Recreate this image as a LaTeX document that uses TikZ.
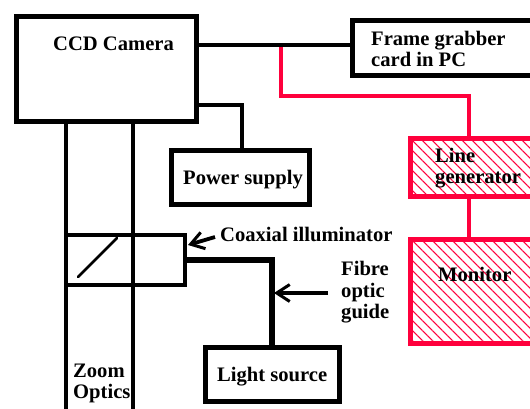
\documentclass[tikz,border=0pt]{standalone}
\usepackage{fontspec}
\setmainfont{Liberation Serif}
\usetikzlibrary{patterns.meta,arrows.meta}
\definecolor{redline}{RGB}{255,0,60}
\tikzset{
  x=1pt,y=-1pt,
  blackbox/.style={draw=black,line width=5pt,fill=white,inner sep=0pt,outer sep=0pt,anchor=north west},
  redbox/.style={draw=redline,line width=4.8pt,inner sep=0pt,outer sep=0pt,anchor=north west,
    pattern={Lines[angle=-45,distance=7.07pt,line width=1.1pt]},pattern color=redline},
  wire/.style={draw=black,line width=4.4pt},
  redwire/.style={draw=redline,line width=4.4pt},
  fibre/.style={draw=black,line width=5.4pt},
  pointer/.style={draw=black,line width=3.8pt,-{Straight Barb[length=13pt,width=17pt,line width=3pt]}},
  lab/.style={inner sep=0pt,anchor=base west,font=\fontsize{20.6}{21}\selectfont\bfseries},
}
\begin{document}
\begin{tikzpicture}
\useasboundingbox (0,0) rectangle (530,408);
\clip (0,0) rectangle (530,408);
% boxes
\node[blackbox,minimum width=180pt,minimum height=105pt] (cam) at (16,16.5) {};
\node[blackbox,minimum width=190pt,minimum height=55pt] (fg) at (352,20) {};
\node[blackbox,minimum width=138pt,minimum height=54pt] (ps) at (171.5,150.5) {};
\node[blackbox,minimum width=134pt,minimum height=54pt] (ls) at (205.5,347.5) {};
\node[redbox,minimum width=140pt,minimum height=58pt] (lg) at (410.5,138.5) {};
\node[redbox,minimum width=140pt,minimum height=104pt] (mon) at (410.5,239.5) {};
\node[draw=black,line width=4.4pt,inner sep=0pt,outer sep=0pt,anchor=north west,minimum width=119pt,minimum height=50pt] (coax) at (66,235) {};
% free ends and bends
\coordinate (tap) at (281,45);
\coordinate (redbend1) at (281,96);
\coordinate (redbend2) at (469,96);
\coordinate (psbend) at (242,105);
\coordinate (fibbend) at (272,260);
\coordinate (optL) at (66,412);
\coordinate (optR) at (133,412);
\coordinate (mirA) at (78,277);
\coordinate (mirB) at (117,238);
\coordinate (coaxtail) at (215,237);
\coordinate (coaxtip) at (188,245);
\coordinate (fibtail) at (328,293);
\coordinate (fibtip) at (274,293);
% connectors
\draw[redwire] (tap) -- (redbend1) -- (redbend2) -- (redbend2 |- lg.north);
\draw[redwire] (lg.south -| redbend2) -- (mon.north -| redbend2);
\draw[wire] (cam.east |- tap) -- (fg.west |- tap);
\draw[wire] (cam.east |- psbend) -- (psbend) -- (psbend |- ps.north);
\draw[wire] (cam.south -| optL) -- (optL);
\draw[wire] (cam.south -| optR) -- (optR);
\draw[fibre] (coax.east |- fibbend) -- (fibbend) -- (fibbend |- ls.north);
\draw[draw=black,line width=2.6pt,line cap=round] (mirA) -- (mirB);
\draw[pointer] (coaxtail) -- (coaxtip);
\draw[pointer] (fibtail) -- (fibtip);
% labels
\node[lab] (tcam) at (53,50) {CCD Camera};
\node[lab] (tfg1) at (371,45) {Frame grabber};
\node[lab] (tfg2) at (371,66) {card in PC};
\node[lab] (tps) at (183,184) {Power supply};
\node[lab] (tlg1) at (435,162) {Line};
\node[lab] (tlg2) at (435,183) {generator};
\node[lab] (tmon) at (438,281) {Monitor};
\node[lab] (tcoax) at (220,241) {Coaxial illuminator};
\node[lab] (tf1) at (341,275) {Fibre};
\node[lab] (tf2) at (341,297) {optic};
\node[lab] (tf3) at (341,318) {guide};
\node[lab] (tls) at (217,381) {Light source};
\node[lab] (tz1) at (73,377) {Zoom};
\node[lab] (tz2) at (73,398) {Optics};
\end{tikzpicture}
\end{document}
